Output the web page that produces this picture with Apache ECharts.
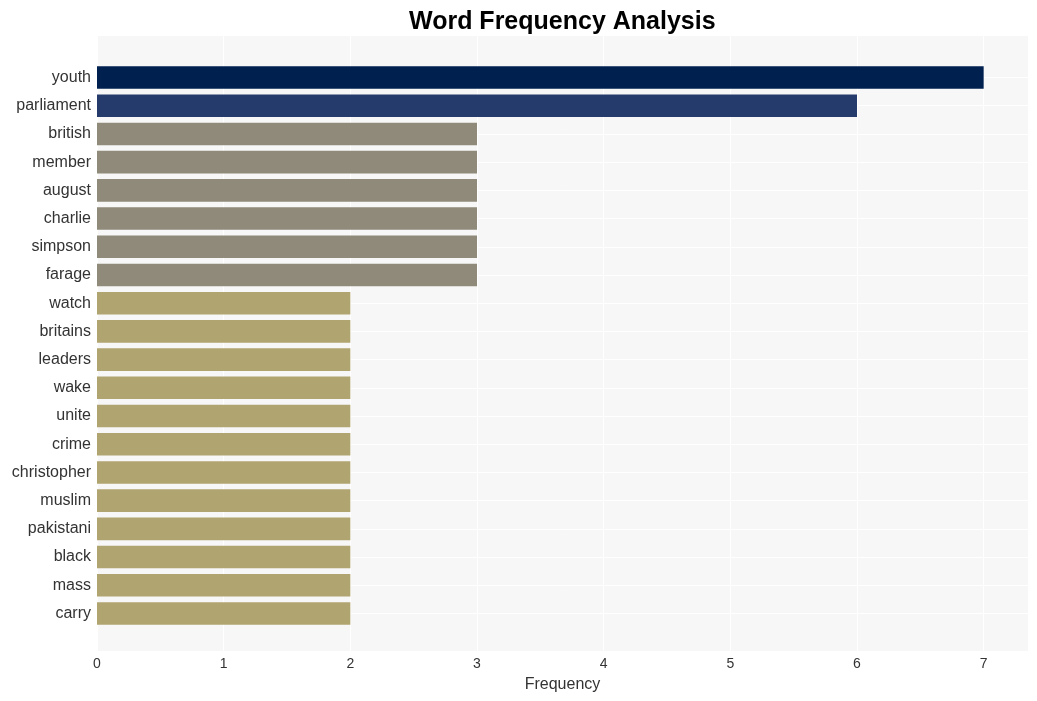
<!DOCTYPE html>
<html>
<head>
<meta charset="utf-8">
<script src="https://cdn.jsdelivr.net/npm/echarts@6/dist/echarts.min.js"></script>
<style>html,body{margin:0;padding:0;background:#fff;}#c{width:1037px;height:701px;}</style>
</head>
<body>
<div id="c"></div>
<script>
var categories = ["youth","parliament","british","member","august","charlie","simpson","farage","watch","britains","leaders","wake","unite","crime","christopher","muslim","pakistani","black","mass","carry"];
var frequencies = [7,6,3,3,3,3,3,3,2,2,2,2,2,2,2,2,2,2,2,2];
var xTicks = [0,1,2,3,4,5,6,7];

var colorByValue = {7:"#00214f", 6:"#243b6c", 3:"#8f8a7a", 2:"#b0a570"};
var font = "Liberation Sans, Arial, Helvetica, sans-serif";
var chart = echarts.init(document.getElementById('c'));
chart.setOption({
  animation: false,
  backgroundColor: '#ffffff',
  title: {
    text: 'Word Frequency Analysis',
    left: 404, top: 5,
    textStyle: {fontFamily: font, fontSize: 25, fontWeight: 'bold', color: '#000'}
  },
  grid: [
    {left: 97, right: 9, top: 36, bottom: 50, show: true, backgroundColor: '#f7f7f7', borderWidth: 0, containLabel: false},
    {left: 97, right: 9, top: 77.5, bottom: 87.5, show: false, containLabel: false}
  ],
  xAxis: [
    {gridIndex: 0, type: 'value', min: 0, max: 7.35, interval: 1,
     name: 'Frequency', nameLocation: 'middle', nameGap: 26,
     nameTextStyle: {fontFamily: font, fontSize: 16, color: '#333'},
     axisLine: {show: false}, axisTick: {show: false},
     axisLabel: {fontFamily: font, fontSize: 14, color: '#333', margin: 6, showMaxLabel: false,
       formatter: function (v) { return xTicks.indexOf(v) >= 0 ? String(v) : ''; }},
     splitLine: {show: true, lineStyle: {color: '#ffffff', width: 1}}},
    {gridIndex: 1, type: 'value', min: 0, max: 7.35, show: false}
  ],
  yAxis: [
    {gridIndex: 0, type: 'value', min: 0, max: 1, show: false},
    {gridIndex: 1, type: 'category', data: categories, inverse: true, boundaryGap: false,
     axisLine: {show: false}, axisTick: {show: false},
     axisLabel: {fontFamily: font, fontSize: 16, color: '#333', margin: 6},
     splitLine: {show: true, lineStyle: {color: '#ffffff', width: 1}}}
  ],
  series: [{
    type: 'bar', xAxisIndex: 1, yAxisIndex: 1,
    data: frequencies, barWidth: '80%', clip: false,
    itemStyle: {color: function (p) { return colorByValue[p.value] || '#b0a570'; }}
  }]
});
</script>
</body>
</html>
